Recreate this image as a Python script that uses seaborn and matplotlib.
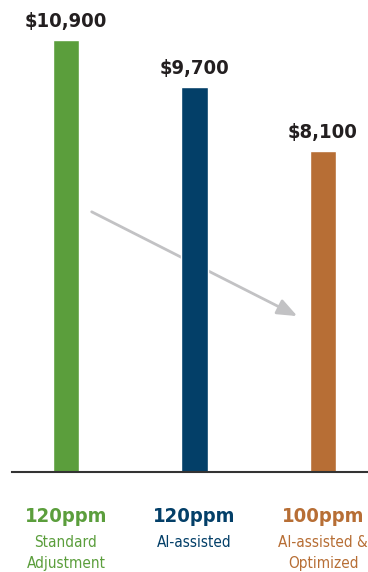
import numpy as np
import pandas as pd
import matplotlib
matplotlib.use("Agg")
import matplotlib.pyplot as plt
import matplotlib.transforms as mtransforms
import seaborn as sns

scenarios = ["Standard\nAdjustment", "AI-assisted", "AI-assisted &\nOptimized"]
ppm_labels = ["120ppm", "120ppm", "100ppm"]
costs = [10900, 9700, 8100]
colors = ["#5B9E3C", "#033F68", "#B76E35"]

df = pd.DataFrame({"scenario": scenarios, "cost": costs})

sns.set_theme(style="white")
plt.rcParams["font.family"] = ["DejaVu Sans"]

fig = plt.figure(figsize=(3.68, 5.72), dpi=100)
ax = fig.add_axes([12 / 368, 100 / 572, 356 / 368, 472 / 572])

sns.barplot(data=df, x="scenario", y="cost", hue="scenario", palette=colors,
            width=0.205, legend=False, ax=ax, zorder=2, saturation=1)

ax.set_xlim(-0.42, 2.35)
ax.set_ylim(0, 11900)

for i, v in enumerate(costs):
    ax.text(i, v + 230, f"${v:,}", ha="center", va="bottom", fontsize=14.5,
            fontweight="bold", fontstretch="condensed", color="#231F20")

# trend arrow goes behind the bars
ax.annotate("", xy=(1.80, 3930), xytext=(0.20, 6560),
            arrowprops=dict(arrowstyle="-|>,head_length=1.0,head_width=0.4",
                            color="#C2C2C4", lw=2, shrinkA=0, shrinkB=0),
            zorder=1)

trans = mtransforms.blended_transform_factory(ax.transData, fig.transFigure)
for i, (ppm, name) in enumerate(zip(ppm_labels, scenarios)):
    ax.text(i, 1 - 517 / 572, ppm, transform=trans, ha="center", va="center",
            fontsize=14.5, fontweight="bold", fontstretch="condensed", color=colors[i])
    ax.text(i, 1 - 535 / 572, name, transform=trans, ha="center", va="top",
            fontsize=11, fontstretch="condensed", color=colors[i], linespacing=1.5)

for s in ["top", "right", "left"]:
    ax.spines[s].set_visible(False)
ax.spines["bottom"].set_color("#333333")
ax.spines["bottom"].set_linewidth(1.5)
ax.set_xticks([])
ax.set_yticks([])
ax.set_xlabel("")
ax.set_ylabel("")

fig.savefig("out.png", dpi=100, facecolor="white")
